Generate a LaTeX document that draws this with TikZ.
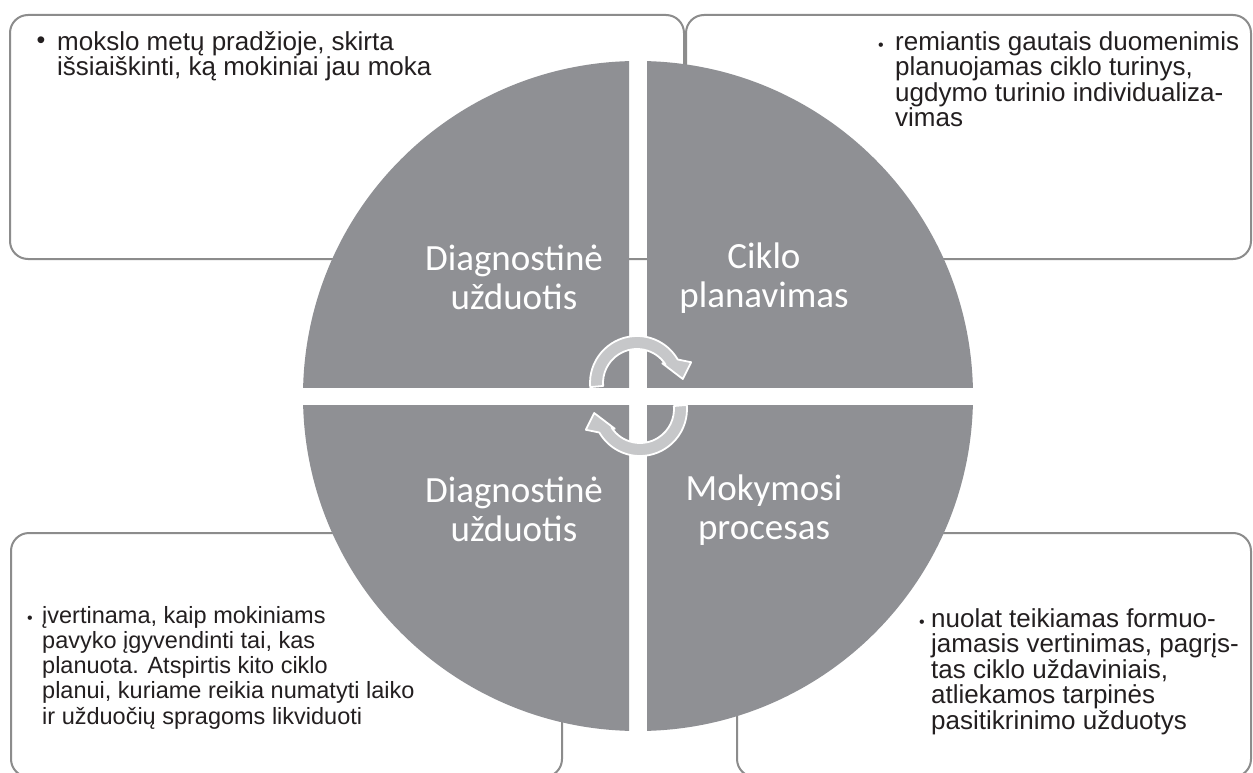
\documentclass[tikz,border=0pt]{standalone}
\usepackage{fontspec}
\setmainfont{Liberation Sans}
\newfontfamily\lblfont{Carlito}
\definecolor{circgray}{RGB}{143,144,148}
\definecolor{boxline}{RGB}{140,140,140}
\definecolor{arrowgray}{RGB}{198,199,201}
\definecolor{txt}{RGB}{35,31,32}
\tikzset{
  infobox/.style={draw=boxline, line width=2pt, rounded corners=18pt},
  bodytext/.style={anchor=north west, inner sep=0pt, align=left, text=txt,
    font=\fontsize{26}{25.6}\selectfont},
  smalltext/.style={bodytext, font=\fontsize{23.5}{25.2}\selectfont},
  lbl/.style={inner sep=0pt, align=center, text=white,
    font=\lblfont\fontsize{37}{39}\selectfont},
  bigbullet/.style={inner sep=0pt, text=txt, font=\fontsize{25}{25}\selectfont},
  smallbullet/.style={inner sep=0pt, text=txt, font=\fontsize{16}{16}\selectfont},
  arrowshape/.style={fill=arrowgray, draw=white, line width=1.8pt, line join=round},
  quad/.style={fill=circgray}
}
\begin{document}
\begin{tikzpicture}[x=1pt,y=-1pt]
\useasboundingbox (0,0) rectangle (1253,773);
\fill[white] (0,0) rectangle (1253,773);
% boxes
\draw[infobox] (10,15) rectangle (684,259);
\draw[infobox] (686,15) rectangle (1251,259);
\draw[infobox] (11,533) rectangle (562,777);
\draw[infobox] (737,533) rectangle (1251,777);
% circle quadrants
\begin{scope}\clip (0,0) rectangle (629,387); \fill[quad] (638,396) circle[radius=335]; \end{scope}
\begin{scope}\clip (647,0) rectangle (1253,387); \fill[quad] (638,396) circle[radius=335]; \end{scope}
\begin{scope}\clip (0,405) rectangle (629,773); \fill[quad] (638,396) circle[radius=335]; \end{scope}
\begin{scope}\clip (647,405) rectangle (1253,773); \fill[quad] (638,396) circle[radius=335]; \end{scope}
% cycle arrows
\begin{scope}[shift={(637,383)}, yscale=-1]
  \filldraw[arrowshape] (185:47) arc[start angle=185, end angle=30, radius=47]
    -- (21:58) -- (5:46) -- (38:32) -- (33:34)
    arc[start angle=33, end angle=185, radius=34] -- cycle;
\end{scope}
\begin{scope}[shift={(640,409)}, yscale=-1, rotate=180]
  \filldraw[arrowshape] (185:47) arc[start angle=185, end angle=30, radius=47]
    -- (21:58) -- (5:46) -- (38:32) -- (33:34)
    arc[start angle=33, end angle=185, radius=34] -- cycle;
\end{scope}
% quadrant labels
\node[lbl] (ltl) at (514,277) {Diagnostinė\\užduotis};
\node[lbl] (ltr) at (764,278) {Ciklo\\planavimas};
\node[lbl] (lbl1) at (514,509) {Diagnostinė\\užduotis};
\node[lbl] (lbr) at (764,510) {Mokymosi\\procesas};
% box texts
\node[bigbullet] (b1) at (41,43) {•};
\node[bodytext] (t1) at (57,31) {mokslo metų pradžioje, skirta\\išsiaiškinti, ką mokiniai jau moka};
\node[smallbullet] (b2) at (881,47) {•};
\node[bodytext] (t2) at (895,31) {remiantis gautais duomenimis\\planuojamas ciklo turinys,\\ugdymo turinio individualiza-\\vimas};
\node[smallbullet] (b3) at (30,620) {•};
\node[smalltext] (t3) at (42,606) {įvertinama, kaip mokiniams\\pavyko įgyvendinti tai, kas\\planuota. Atspirtis kito ciklo\\planui, kuriame reikia numatyti laiko\\ir užduočių spragoms likviduoti};
\node[smallbullet] (b4) at (922,624) {•};
\node[bodytext] (t4) at (931,608) {nuolat teikiamas formuo-\\jamasis vertinimas, pagrįs-\\tas ciklo uždaviniais,\\atliekamos tarpinės\\pasitikrinimo užduotys};
\end{tikzpicture}
\end{document}
